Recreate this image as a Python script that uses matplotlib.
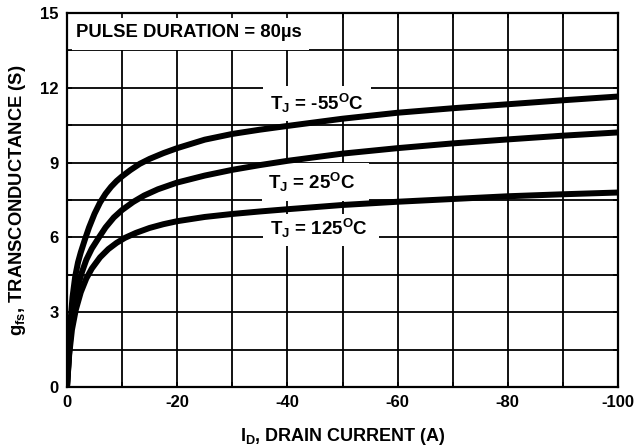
import matplotlib
matplotlib.use('Agg')
import matplotlib.pyplot as plt
from matplotlib.patches import Rectangle
from matplotlib.ticker import MultipleLocator

plt.rcParams['font.family'] = ['Liberation Sans', 'DejaVu Sans']
plt.rcParams['font.weight'] = 'bold'
plt.rcParams['mathtext.fontset'] = 'custom'
plt.rcParams['mathtext.rm'] = 'Liberation Sans:bold'
plt.rcParams['mathtext.it'] = 'Liberation Sans:bold'
plt.rcParams['mathtext.bf'] = 'Liberation Sans:bold'
plt.rcParams['mathtext.sf'] = 'Liberation Sans:bold'
plt.rcParams['mathtext.default'] = 'rm'

# ---------------- data ----------------
id_m55 = [0, -0.4, -0.7, -1.0, -1.5, -2.0, -2.5, -3.3, -4, -5, -6, -7, -8, -9, -10,
          -11.5, -13.2, -15, -17.5, -20, -25, -30, -35, -40, -50, -60, -70, -80, -90, -100]
gfs_m55 = [0, 1.6, 2.8, 3.6, 4.45, 5.0, 5.4, 5.95, 6.4, 6.95, 7.4, 7.75, 8.03, 8.26, 8.45,
           8.7, 8.95, 9.15, 9.38, 9.58, 9.92, 10.15, 10.32, 10.47, 10.76, 11.0, 11.18, 11.34, 11.5, 11.65]

id_25 = [0, -0.4, -0.8, -1.2, -1.8, -2.7, -3.5, -4.5, -5.8, -7, -8.5, -10, -12, -14,
         -16.5, -20, -25, -30, -35, -40, -50, -60, -70, -80, -90, -100]
gfs_25 = [0, 1.4, 2.5, 3.1, 3.9, 4.6, 5.1, 5.55, 6.0, 6.4, 6.8, 7.1, 7.42, 7.68,
          7.93, 8.2, 8.48, 8.71, 8.9, 9.07, 9.36, 9.58, 9.77, 9.93, 10.08, 10.21]

id_125 = [0, -0.4, -0.9, -1.6, -2.5, -3.5, -4.5, -6, -7.5, -9, -10.5, -12.5, -15,
          -17.5, -20, -25, -30, -35, -40, -50, -60, -70, -80, -90, -100]
gfs_125 = [0, 1.3, 2.3, 3.1, 3.8, 4.35, 4.75, 5.2, 5.53, 5.78, 5.98, 6.18, 6.38,
           6.53, 6.65, 6.82, 6.94, 7.04, 7.13, 7.3, 7.43, 7.54, 7.65, 7.73, 7.8]

curve_labels = [r'T$_{J}$ = -55$^{O}$C', r'T$_{J}$ = 25$^{O}$C', r'T$_{J}$ = 125$^{O}$C']
note_text = 'PULSE DURATION = 80\u00b5s'

x_ticks = [0, -20, -40, -60, -80, -100]
x_tick_labels = ['0', '-20', '-40', '-60', '-80', '-100']
y_ticks = [0, 3, 6, 9, 12, 15]
y_tick_labels = ['0', '3', '6', '9', '12', '15']
x_label = r'I$_{D}$, DRAIN CURRENT (A)'
y_label = r'g$_{fs}$, TRANSCONDUCTANCE (S)'

# ---------------- layout ----------------
# label positions (x, baseline y) and white boxes (x0, y0, width, height) in data units
label_pos = [(-36.8, 11.12), (-36.5, 7.94), (-36.8, 6.08)]
label_boxes = [(-35.6, 10.65, -19.6, 1.42), (-35.4, 7.45, -19.4, 1.52),
               (-35.6, 5.66, -21.0, 1.28)]
note_pos = (-1.6, 14.05)
note_box = (0, 13.5, -44, 1.5)

fig = plt.figure(figsize=(6.34, 4.48), dpi=100)
ax = fig.add_axes([67 / 634, 1 - 387 / 448, 551 / 634, 374 / 448])

ax.set_xlim(0, -100)
ax.set_ylim(0, 15)

# grid lines (major + minor) drawn beneath the white label boxes
grid_x = [v for v in range(0, -101, -10)]
grid_y = [i * 1.5 for i in range(0, 11)]
ax.vlines(grid_x, 0, 15, colors='black', linewidth=1.3, zorder=0.8)
ax.hlines(grid_y, 0, -100, colors='black', linewidth=1.3, zorder=0.8)

for (x0, y0, w, h) in label_boxes + [note_box]:
    ax.add_patch(Rectangle((x0, y0), w, h, facecolor='white', edgecolor='none', zorder=1.0))

for xs, ys in [(id_m55, gfs_m55), (id_25, gfs_25), (id_125, gfs_125)]:
    ax.plot(xs, ys, color='black', linewidth=4.3, solid_joinstyle='round',
            solid_capstyle='round', zorder=2)

for (tx, ty), lab in zip(label_pos, curve_labels):
    ax.text(tx, ty, lab, fontsize=13.5, fontweight='bold', ha='left', va='baseline', zorder=3)

ax.text(note_pos[0], note_pos[1], note_text, fontsize=13.3, fontweight='bold',
        ha='left', va='baseline', zorder=3)

ax.set_xticks(x_ticks)
ax.set_xticklabels(x_tick_labels)
ax.set_yticks(y_ticks)
ax.set_yticklabels(y_tick_labels)
ax.xaxis.set_minor_locator(MultipleLocator(10))
ax.yaxis.set_minor_locator(MultipleLocator(1.5))
ax.tick_params(which='both', direction='in', top=True, right=True, length=3.5,
               width=1.2, colors='black', labelsize=12, pad=6)
for lab in ax.get_xticklabels() + ax.get_yticklabels():
    lab.set_fontweight('bold')

for sp in ax.spines.values():
    sp.set_linewidth(1.6)
    sp.set_zorder(2.5)

ax.set_xlabel(x_label, fontsize=13, fontweight='bold', labelpad=11)
ax.set_ylabel(y_label, fontsize=13.2, fontweight='bold', labelpad=9)

fig.savefig('out.png', dpi=100)
